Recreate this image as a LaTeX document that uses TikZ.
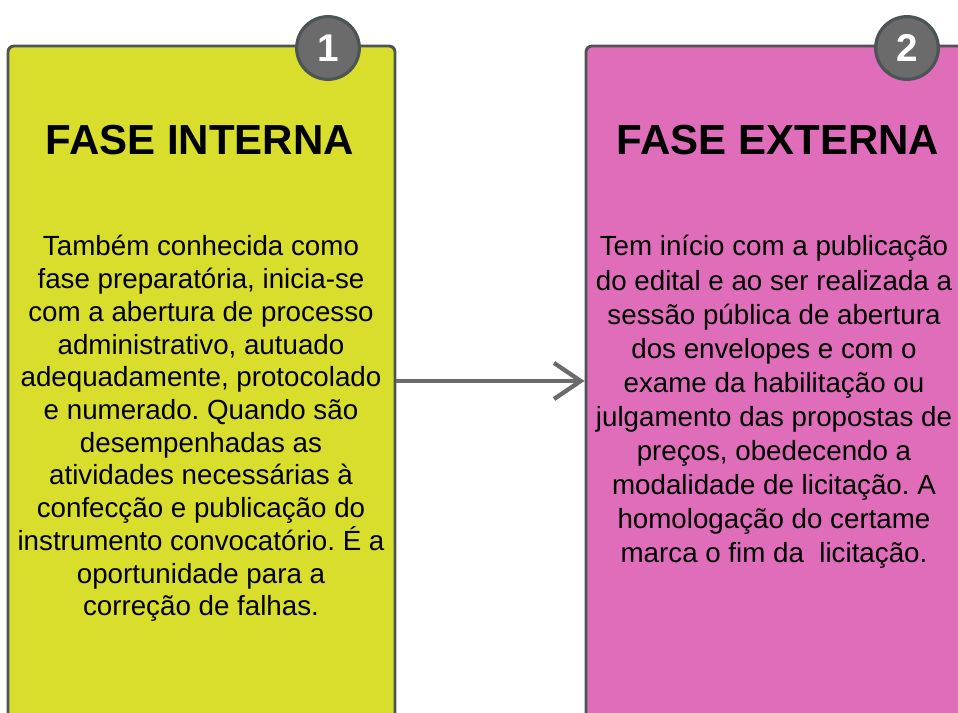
\documentclass[tikz,border=0pt]{standalone}
\usepackage{fontspec}
\setmainfont{Liberation Sans}
\frenchspacing
\usetikzlibrary{arrows.meta}
\definecolor{ylw}{HTML}{D8DE2B}
\definecolor{pnk}{HTML}{E06DBA}
\definecolor{brd}{HTML}{4D5456}
\definecolor{cgray}{HTML}{6B6B6B}
\tikzset{
  phase/.style={draw=brd, line width=2.2pt, rounded corners=4.5pt,
    minimum width=290.25pt, minimum height=513pt, inner sep=0pt},
  badge/.style={circle, draw=brd, line width=2.4pt, fill=cgray,
    minimum size=47pt, inner sep=0pt, text=white,
    font=\fontsize{29}{29}\selectfont\bfseries},
  title/.style={anchor=base, inner sep=0pt, font=\fontsize{31.5}{32}\selectfont\bfseries},
  body/.style={anchor=base, inner sep=0pt, font=\fontsize{20.8}{24}\selectfont},
  arr/.style={draw=cgray, line width=3.2pt, -{Straight Barb[length=20pt,width=27pt,line width=3.2pt]}}
}
\begin{document}
\begin{tikzpicture}[x=0.75pt,y=-0.75pt]
\useasboundingbox (0,0) rectangle (958,713);
\clip (0,0) rectangle (958,713);
\fill[white] (0,0) rectangle (958,713);
\node[phase, fill=ylw] (A) at (201.5,388) {};
\node[phase, fill=pnk] (B) at (779.5,388) {};
\node[badge] (c1) at (328,48) {1};
\node[badge] (c2) at (907,48) {2};
\node[title] (t1) at (200,155) {FASE INTERNA};
\node[title] (t2) at (778,155) {FASE EXTERNA};
\foreach [count=\i] \t in {Também conhecida como,{fase preparatória, inicia-se},com a abertura de processo,{administrativo, autuado},{adequadamente, protocolado},e numerado. Quando são,desempenhadas as,atividades necessárias à,confecção e publicação do,instrumento convocatório. É a,oportunidade para a,correção de falhas.}
  \node[body] (l\i) at (201,{256+(\i-1)*32.7}) {\t};
\foreach [count=\i] \t in {Tem início com a publicação,do edital e ao ser realizada a,sessão pública de abertura,dos envelopes e com o,exame da habilitação ou,julgamento das propostas de,{preços, obedecendo a},modalidade de licitação. A,homologação do certame,marca o fim da\ \ licitação.}
  \node[body] (r\i) at (774,{256+(\i-1)*34.1}) {\t};
\draw[arr] ([yshift=5.25pt]A.east) -- ([yshift=5.25pt]B.west);
\end{tikzpicture}
\end{document}
